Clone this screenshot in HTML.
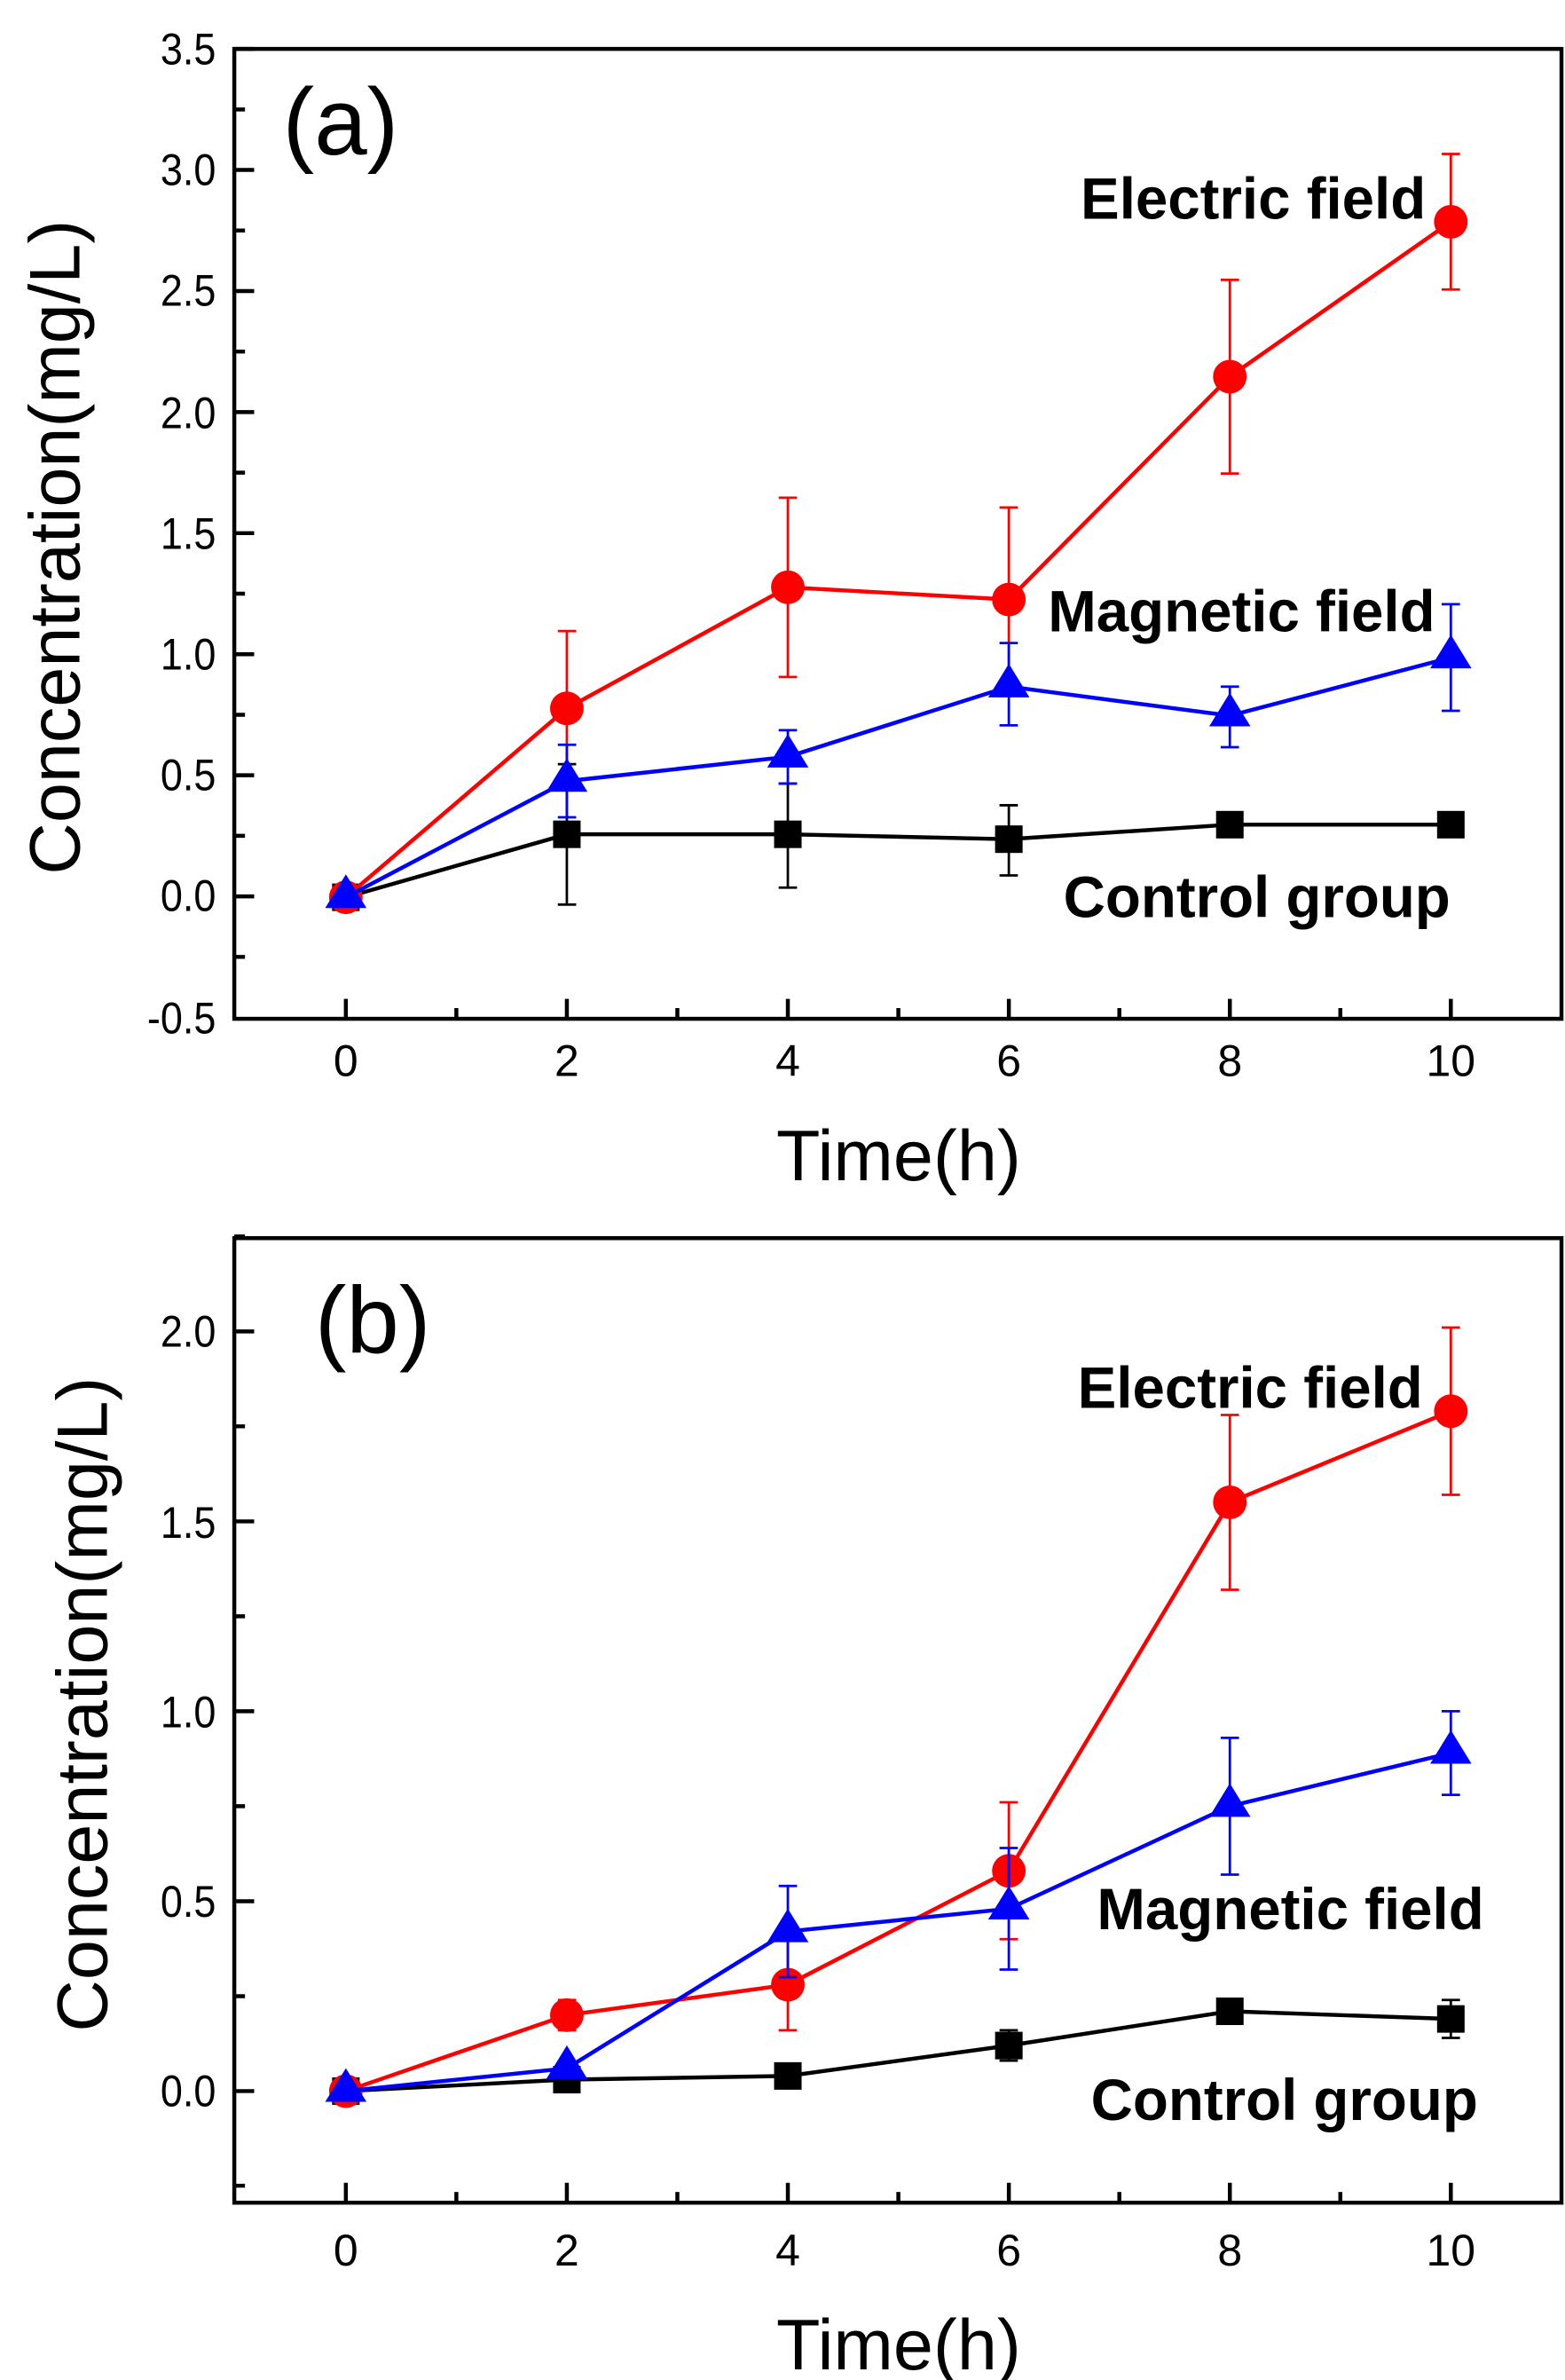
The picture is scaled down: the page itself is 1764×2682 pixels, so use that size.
<!DOCTYPE html>
<html><head><meta charset="utf-8"><style>html,body{margin:0;padding:0;background:#fff}svg{display:block}</style></head>
<body>
<svg width="1764" height="2682" viewBox="0 0 1024 1557" preserveAspectRatio="none" xmlns="http://www.w3.org/2000/svg" font-family="'Liberation Sans', sans-serif">
<rect width="1024" height="1557" fill="#fff"/>
<!-- Panel a -->
<g stroke="#000" stroke-width="2.6" fill="none">
<rect x="153.3" y="32" width="868.4" height="634.5"/>
<path d="M226.3 666.5v-13M370.9 666.5v-13M515.5 666.5v-13M660.1 666.5v-13M804.7 666.5v-13M949.3 666.5v-13M298.6 666.5v-7M443.2 666.5v-7M587.8 666.5v-7M732.4 666.5v-7M877 666.5v-7"/>
<path d="M153.3 32h13M153.3 111.2h13M153.3 190.4h13M153.3 269.6h13M153.3 348.8h13M153.3 428h13M153.3 507.2h13M153.3 586.4h13M153.3 71.6h7M153.3 150.8h7M153.3 230h7M153.3 309.2h7M153.3 388.4h7M153.3 467.6h7M153.3 546.8h7M153.3 626h7"/>
</g>
<g font-size="29" text-anchor="end" transform="scale(0.9,1)">
<text x="157" y="42">3.5</text><text x="157" y="121">3.0</text><text x="157" y="200">2.5</text><text x="157" y="280">2.0</text><text x="157" y="359">1.5</text><text x="157" y="438">1.0</text><text x="157" y="517">0.5</text><text x="157" y="596">0.0</text><text x="157" y="676">-0.5</text>
</g>
<g font-size="29" text-anchor="middle">
<text x="226.3" y="704">0</text><text x="370.9" y="704">2</text><text x="515.5" y="704">4</text><text x="660.1" y="704">6</text><text x="804.7" y="704">8</text><text x="949.3" y="704">10</text>
</g>
<text x="588" y="772" font-size="47" text-anchor="middle">Time(h)</text>
<text transform="translate(52,358) rotate(-90)" font-size="47" text-anchor="middle">Concentration(mg/L)</text>
<text x="185" y="101" font-size="62">(a)</text>
<g font-size="38" font-weight="bold" text-anchor="end">
<text x="933" y="143">Electric field</text>
<text x="939" y="413">Magnetic field</text>
<text x="949" y="600">Control group</text>
</g>
<!-- black a -->
<g stroke="#000" stroke-width="1.6" fill="none">
<path d="M370.9 499.9V591.8M365 499.9h12M365 591.8h12M515.5 512.6V580.7M509.5 512.6h12M509.5 580.7h12M660.1 526.8V572.7M654 526.8h12M654 572.7h12"/>
</g>
<polyline points="226.3,587 370.9,545.8 515.5,545.8 660.1,549 804.7,539.5 949.3,539.5" fill="none" stroke="#000" stroke-width="2.6"/>
<g fill="#000"><rect x="217.3" y="578" width="18" height="18"/><rect x="361.9" y="536.8" width="18" height="18"/><rect x="506.5" y="536.8" width="18" height="18"/><rect x="651.1" y="540" width="18" height="18"/><rect x="795.7" y="530.5" width="18" height="18"/><rect x="940.3" y="530.5" width="18" height="18"/></g>
<!-- red a -->
<g stroke="#f00" stroke-width="1.6" fill="none">
<path d="M370.9 412.8V514.1M365 412.8h12M365 514.1h12M515.5 325.6V442.9M509.5 325.6h12M509.5 442.9h12M660.1 332V452.4M654 332h12M654 452.4h12M804.7 183.1V309.8M798.7 183.1h12M798.7 309.8h12M949.3 100.7V189.4M943.3 100.7h12M943.3 189.4h12"/>
</g>
<polyline points="226.3,587 370.9,463.4 515.5,384.2 660.1,392.2 804.7,246.4 949.3,145.1" fill="none" stroke="#f00" stroke-width="2.6"/>
<g fill="#f00"><circle cx="226.3" cy="587" r="11"/><circle cx="370.9" cy="463.4" r="11"/><circle cx="515.5" cy="384.2" r="11"/><circle cx="660.1" cy="392.2" r="11"/><circle cx="804.7" cy="246.4" r="11"/><circle cx="949.3" cy="145.1" r="11"/></g>
<!-- blue a -->
<g stroke="#00f" stroke-width="1.6" fill="none">
<path d="M370.9 487.2V534.7M365 487.2h12M365 534.7h12M515.5 477.7V512.6M509.5 477.7h12M509.5 512.6h12M660.1 420.7V474.5M654 420.7h12M654 474.5h12M804.7 449.2V488.8M798.7 449.2h12M798.7 488.8h12M949.3 395.3V465M943.3 395.3h12M943.3 465h12"/>
</g>
<polyline points="226.3,587 370.9,511 515.5,495.1 660.1,449.2 804.7,468.2 949.3,430.2" fill="none" stroke="#00f" stroke-width="2.6"/>
<g fill="#00f"><path d="M226.3 572l13.5 22h-27z"/><path d="M370.9 496l13.5 22h-27z"/><path d="M515.5 480.1l13.5 22h-27z"/><path d="M660.1 434.2l13.5 22h-27z"/><path d="M804.7 453.2l13.5 22h-27z"/><path d="M949.3 415.2l13.5 22h-27z"/></g>

<!-- Panel b -->
<g stroke="#000" stroke-width="2.6" fill="none">
<rect x="153.3" y="810" width="868.4" height="631"/>
<path d="M226.3 1441v-13M370.9 1441v-13M515.5 1441v-13M660.1 1441v-13M804.7 1441v-13M949.3 1441v-13M298.6 1441v-7M443.2 1441v-7M587.8 1441v-7M732.4 1441v-7M877 1441v-7"/>
<path d="M153.3 871h13M153.3 995.3h13M153.3 1119.5h13M153.3 1243.8h13M153.3 1368h13M153.3 1429.9h7M153.3 1305.9h7M153.3 1181.6h7M153.3 1057.4h7M153.3 933.1h7M153.3 808.9h7"/>
</g>
<g font-size="29" text-anchor="end" transform="scale(0.9,1)">
<text x="157" y="881">2.0</text><text x="157" y="1006">1.5</text><text x="157" y="1130">1.0</text><text x="157" y="1254">0.5</text><text x="157" y="1378">0.0</text>
</g>
<g font-size="29" text-anchor="middle">
<text x="226.3" y="1482">0</text><text x="370.9" y="1482">2</text><text x="515.5" y="1482">4</text><text x="660.1" y="1482">6</text><text x="804.7" y="1482">8</text><text x="949.3" y="1482">10</text>
</g>
<text x="588" y="1550" font-size="47" text-anchor="middle">Time(h)</text>
<text transform="translate(70,1115) rotate(-90)" font-size="47" text-anchor="middle">Concentration(mg/L)</text>
<text x="206" y="885" font-size="62">(b)</text>
<g font-size="38" font-weight="bold" text-anchor="end">
<text x="931" y="921">Electric field</text>
<text x="971" y="1262">Magnetic field</text>
<text x="967" y="1387">Control group</text>
</g>
<!-- black b -->
<g stroke="#000" stroke-width="1.6" fill="none">
<path d="M660.1 1328.2V1348.1M654 1328.2h12M654 1348.1h12M949.3 1308.4V1333.2M943.3 1308.4h12M943.3 1333.2h12"/>
</g>
<polyline points="226.3,1368 370.9,1360.5 515.5,1358.1 660.1,1338.2 804.7,1315.8 949.3,1320.8" fill="none" stroke="#000" stroke-width="2.6"/>
<g fill="#000"><rect x="217.3" y="1359" width="18" height="18"/><rect x="361.9" y="1351.5" width="18" height="18"/><rect x="506.5" y="1349.1" width="18" height="18"/><rect x="651.1" y="1329.2" width="18" height="18"/><rect x="795.7" y="1306.8" width="18" height="18"/><rect x="940.3" y="1311.8" width="18" height="18"/></g>
<!-- red b -->
<g stroke="#f00" stroke-width="1.6" fill="none">
<path d="M370.9 1308.4V1328.2M365 1308.4h12M365 1328.2h12M515.5 1268.6V1328.2M509.5 1268.6h12M509.5 1328.2h12M660.1 1179.1V1268.6M654 1179.1h12M654 1268.6h12M804.7 925.7V1040M798.7 925.7h12M798.7 1040h12M949.3 868.5V977.9M943.3 868.5h12M943.3 977.9h12"/>
</g>
<polyline points="226.3,1368 370.9,1318.3 515.5,1298.4 660.1,1223.9 804.7,982.8 949.3,923.2" fill="none" stroke="#f00" stroke-width="2.6"/>
<g fill="#f00"><circle cx="226.3" cy="1368" r="11"/><circle cx="370.9" cy="1318.3" r="11"/><circle cx="515.5" cy="1298.4" r="11"/><circle cx="660.1" cy="1223.9" r="11"/><circle cx="804.7" cy="982.8" r="11"/><circle cx="949.3" cy="923.2" r="11"/></g>
<!-- blue b -->
<g stroke="#00f" stroke-width="1.6" fill="none">
<path d="M515.5 1233.8V1293.5M509.5 1233.8h12M509.5 1293.5h12M660.1 1209V1288.5M654 1209h12M654 1288.5h12M804.7 1136.9V1226.4M798.7 1136.9h12M798.7 1226.4h12M949.3 1119.5V1174.2M943.3 1119.5h12M943.3 1174.2h12"/>
</g>
<polyline points="226.3,1368 370.9,1353.1 515.5,1263.6 660.1,1248.7 804.7,1181.6 949.3,1146.8" fill="none" stroke="#00f" stroke-width="2.6"/>
<g fill="#00f"><path d="M226.3 1353l13.5 22h-27z"/><path d="M370.9 1338.1l13.5 22h-27z"/><path d="M515.5 1248.6l13.5 22h-27z"/><path d="M660.1 1233.7l13.5 22h-27z"/><path d="M804.7 1166.6l13.5 22h-27z"/><path d="M949.3 1131.8l13.5 22h-27z"/></g>
</svg>
</body></html>
